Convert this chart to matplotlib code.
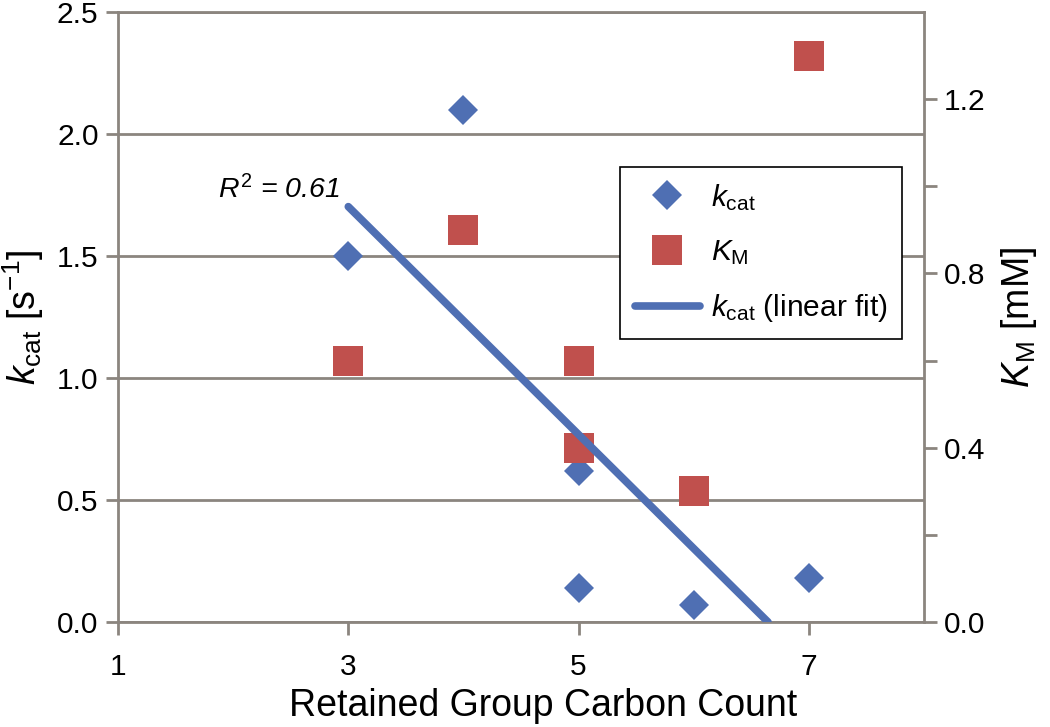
import numpy as np
import matplotlib
matplotlib.use('Agg')
import matplotlib.pyplot as plt

plt.rcParams['font.family'] = ['Liberation Sans', 'DejaVu Sans']
plt.rcParams['mathtext.fontset'] = 'custom'
plt.rcParams['mathtext.rm'] = 'Liberation Sans'
plt.rcParams['mathtext.it'] = 'Liberation Sans:italic'

# data
carbon_kcat = [3, 4, 5, 5, 6, 7]
kcat = [1.5, 2.1, 0.62, 0.14, 0.07, 0.18]
carbon_km = [3, 4, 5, 5, 6, 7]
km = [0.6, 0.9, 0.6, 0.4, 0.3, 1.3]
x_ticks = [1, 3, 5, 7]
kcat_ticks = [0.0, 0.5, 1.0, 1.5, 2.0, 2.5]
km_ticks = [0.0, 0.4, 0.8, 1.2]
km_minor = [0.2, 0.6, 1.0]

grey = '#8b857f'
blue = '#4f6fb3'
red = '#c0504d'

# linear fit of kcat, drawn from first point down to where it hits zero
slope, icpt = np.polyfit(carbon_kcat, kcat, 1)
pred = slope * np.array(carbon_kcat) + icpt
r2 = 1 - np.sum((np.array(kcat) - pred) ** 2) / np.sum((np.array(kcat) - np.mean(kcat)) ** 2)
fit_x = np.array([min(carbon_kcat), -icpt / slope])
fit_y = slope * fit_x + icpt

fig = plt.figure(figsize=(10.5, 7.27), dpi=100)
ax = fig.add_axes([0.1124, 0.1444, 0.7676, 0.8391])
ax2 = ax.twinx()

ax.set_xlim(1, 8)
ax.set_ylim(0, 2.5)
ax2.set_ylim(0, 1.4)

ax.set_xticks(x_ticks)
ax.set_yticks(kcat_ticks)
ax.set_yticklabels([f'{t:.1f}' for t in kcat_ticks])
ax2.set_yticks(km_ticks)
ax2.set_yticklabels([f'{t:.1f}' for t in km_ticks])
ax2.set_yticks(km_minor, minor=True)

ax.yaxis.grid(True, color=grey, linewidth=2)
ax.set_axisbelow(True)

for a in (ax, ax2):
    for s in a.spines.values():
        s.set_color(grey)
        s.set_linewidth(2)
    a.tick_params(which='both', direction='out', length=9, width=2, color=grey,
                  labelsize=21.5, pad=5)
ax.tick_params(axis='x', pad=13)
ax.spines['right'].set_visible(False)
ax2.spines['left'].set_visible(False)
ax2.spines['top'].set_visible(False)
ax2.spines['bottom'].set_visible(False)

h1, = ax.plot(carbon_kcat, kcat, linestyle='none', marker='D', markersize=15.5,
              color=blue, markeredgewidth=0, label=r'$k_\mathrm{cat}$')
h2, = ax2.plot(carbon_km, km, linestyle='none', marker='s', markersize=22,
               color=red, markeredgewidth=0, label=r'$K_\mathrm{M}$')
h3, = ax2.plot(fit_x, fit_y, transform=ax.transData, color=blue, linewidth=5.5,
               solid_capstyle='round', label=r'$k_\mathrm{cat}$ (linear fit)')

ax.text(1.87, 1.77, f'$R^2$ = {r2:.2f}', fontsize=20.5, style='italic',
        ha='left', va='center')

ax.set_xlabel('Retained Group Carbon Count', fontsize=27)
ax.xaxis.set_label_coords(0.527, -0.108, transform=ax.transAxes)
ax.xaxis.label.set_va('top')
ax.set_ylabel(r'$k_\mathrm{cat}$ [s$^{-1}$]', fontsize=27, labelpad=8)
ax2.set_ylabel(r'$K_\mathrm{M}$ [mM]', fontsize=27, labelpad=10)

leg = ax2.legend(handles=[h1, h2, h3], loc='upper right', bbox_to_anchor=(0.973, 0.746),
                 borderaxespad=0, fontsize=21.5, frameon=True, fancybox=False,
                 edgecolor='black', framealpha=1, handlelength=2.2, labelspacing=0.85,
                 borderpad=0.5, handletextpad=0.35)
leg.get_frame().set_linewidth(1.2)

fig.savefig('out.png', dpi=100)
